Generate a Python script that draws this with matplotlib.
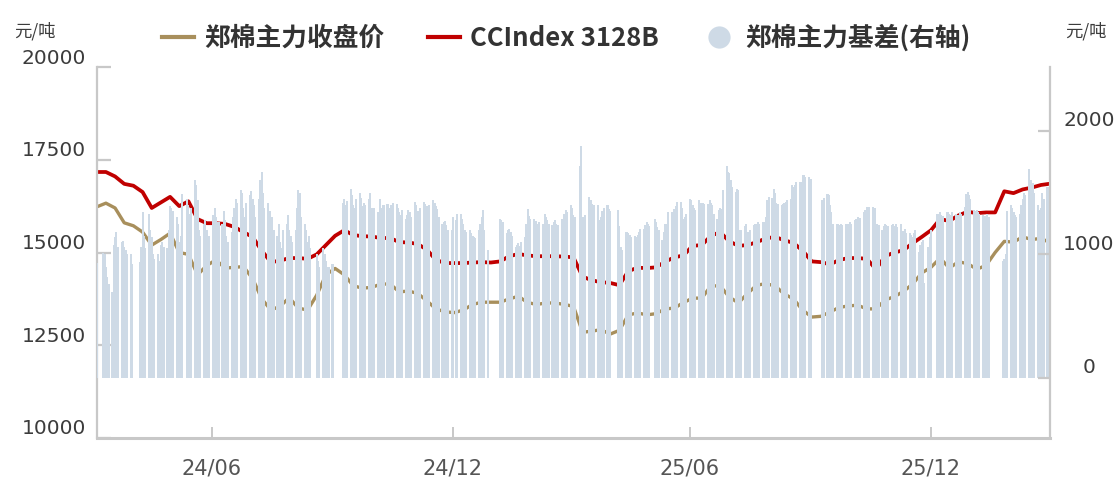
import matplotlib
matplotlib.use('Agg')
import matplotlib.pyplot as plt
import matplotlib.transforms as mtransforms
from matplotlib.lines import Line2D
import pandas as pd

plt.rcParams['font.family'] = ['Noto Sans CJK SC', 'DejaVu Sans']

# exchange holidays (weekdays with no trading)
holidays = ['2024-04-04', '2024-04-05', '2024-05-01', '2024-05-02', '2024-05-03',
            '2024-06-10', '2024-09-16', '2024-09-17', '2024-10-01', '2024-10-02',
            '2024-10-03', '2024-10-04', '2024-10-07', '2025-01-01', '2025-01-28',
            '2025-01-29', '2025-01-30', '2025-01-31', '2025-02-03', '2025-02-04',
            '2025-04-04', '2025-05-01', '2025-05-02', '2025-05-05', '2025-06-02',
            '2025-10-01', '2025-10-02', '2025-10-03', '2025-10-06', '2025-10-07',
            '2025-10-08', '2026-01-01', '2026-01-02', '2026-02-16', '2026-02-17',
            '2026-02-18', '2026-02-19', '2026-02-20', '2026-02-23']

# 郑棉主力基差, daily, one list per month (Apr 2024 .. Mar 2026)
basis_2024 = [
    [930, 1010, 1000, 900, 820, 760, 700, 1080, 1140, 1180, 1060, 1100, 1110, 1060, 1040, 1000, 1000, 920],
    [940, 1060, 1340, 1150, 1050, 1330, 1200, 1140, 1000, 960, 1000, 950, 1080, 1100, 1060, 1050, 1200, 1395, 1380, 1350],
    [1300, 1250, 1100, 1150, 1490, 1450, 1400, 1330, 1380, 1600, 1560, 1440, 1200, 1150, 1250, 1280, 1200, 1100, 1150],
    [1320, 1380, 1300, 1200, 1260, 1250, 1350, 1280, 1150, 1100, 1180, 1300, 1380, 1450, 1420, 1520, 1500, 1380, 1300, 1420, 1480, 1510, 1450],
    [1400, 1300, 1450, 1600, 1670, 1500, 1380, 1420, 1350, 1250, 1300, 1200, 1150, 1250, 1100, 1050, 1200, 1250, 1320, 1200, 1150, 1100],
    [1200, 1380, 1520, 1500, 1300, 1250, 1200, 1100, 1150, 1050, 1000, 950, 900, 1050, 1000, 950, 870, 900, 920],
    [1420, 1450, 1400, 1430, 1530, 1480, 1400, 1380, 1450, 1500, 1460, 1390, 1420, 1400, 1450, 1500, 1380, 1350],
    [1380, 1344, 1450, 1380, 1360, 1400, 1410, 1380, 1360, 1400, 1420, 1410, 1380, 1340, 1320, 1360, 1290, 1320, 1360, 1340, 1300],
    [1425, 1400, 1350, 1330, 1380, 1425, 1410, 1390, 1385, 1400, 1440, 1420, 1390, 1370, 1300, 1250, 1260, 1275, 1240, 1200, 1195, 1300],
]
basis_2025 = [
    [1280, 1330, 1330, 1290, 1250, 1200, 1180, 1195, 1170, 1150, 1140, 1130, 1195, 1250, 1300, 1360, 1200, 1035],
    [1290, 1280, 1260, 1170, 1200, 1210, 1180, 1150, 1060, 1080, 1090, 1070, 1100, 1140, 1250, 1370, 1310, 1290],
    [1290, 1270, 1250, 1240, 1260, 1250, 1330, 1300, 1280, 1250, 1240, 1260, 1280, 1250, 1240, 1290, 1240, 1330, 1360, 1340, 1400],
    [1380, 1320, 1300, 1720, 1880, 1300, 1300, 1320, 1465, 1440, 1410, 1380, 1400, 1400, 1280, 1300, 1350, 1380, 1400, 1370, 1350],
    [1360, 1230, 1060, 1035, 1180, 1180, 1170, 1160, 1140, 1150, 1140, 1160, 1180, 1210, 1210, 1240, 1260, 1250, 1230],
    [1290, 1260, 1220, 1195, 1115, 1180, 1250, 1250, 1340, 1340, 1320, 1370, 1390, 1425, 1425, 1380, 1290, 1300, 1330, 1450],
    [1440, 1400, 1380, 1360, 1440, 1420, 1400, 1420, 1410, 1410, 1440, 1420, 1400, 1330, 1290, 1360, 1380, 1370, 1520, 1720, 1670, 1660, 1600],
    [1550, 1505, 1530, 1520, 1195, 1200, 1230, 1250, 1180, 1170, 1200, 1235, 1250, 1220, 1260, 1250, 1260, 1265, 1300, 1440, 1465],
    [1460, 1530, 1500, 1420, 1410, 1400, 1410, 1420, 1425, 1440, 1450, 1560, 1550, 1560, 1585, 1590, 1585, 1640, 1640, 1630, 1625, 1610],
    [1440, 1460, 1490, 1480, 1400, 1345, 1250, 1250, 1245, 1240, 1250, 1240, 1245, 1240, 1245, 1260, 1250],
    [1280, 1290, 1300, 1290, 1295, 1345, 1360, 1385, 1380, 1385, 1385, 1380, 1236, 1250, 1240, 1200, 1230, 1250, 1240, 1230],
    [1240, 1250, 1230, 1250, 1220, 1250, 1180, 1190, 1210, 1170, 1170, 1160, 1140, 1170, 1200, 1020, 1080, 1100, 1115, 765, 1060, 1140, 1200],
]
basis_2026 = [
    [1330, 1250, 1340, 1320, 1310, 1345, 1340, 1330, 1320, 1340, 1330, 1310, 1320, 1340, 1330, 1385, 1490, 1505, 1480, 1450],
    [1360, 1350, 1360, 1340, 1330, 1320, 1310, 1300, 1330, 1300, 950, 960, 1000, 1350],
    [1400, 1380, 1340, 1320, 1300, 1330, 1400, 1450, 1500, 1480, 1690, 1600, 1500, 1580, 1500, 1400, 1360, 1380, 1500, 1450, 1545, 1540],
]

# weekly readings of the two price lines (Wednesdays from 2024-04-03, last point 2026-03-31)
cc_index = [17170, 17170, 17050, 16850, 16800, 16630, 16200, 16350, 16500, 16250,
            16380, 15900, 15790, 15790, 15770, 15690, 15550, 15420, 15050, 14740,
            14780, 14850, 14850, 14830, 14950, 15200, 15450, 15600, 15470, 15440,
            15430, 15390, 15390, 15280, 15270, 15230, 15080, 14800, 14715, 14715,
            14715, 14730, 14740, 14730, 14760, 14900, 14960, 14920, 14900, 14900,
            14900, 14890, 14870, 14350, 14250, 14200, 14180, 14120, 14500, 14590,
            14580, 14600, 14750, 14870, 14920, 15180, 15200, 15450, 15550, 15300,
            15180, 15200, 15280, 15380, 15420, 15330, 15260, 15050, 14760, 14740,
            14680, 14800, 14850, 14850, 14830, 14550, 14900, 15000, 15060, 15250,
            15420, 15600, 15900, 15850, 16000, 16100, 16060, 16080, 16080, 16650,
            16600, 16700, 16750, 16820, 16850]
zce_close = [16230, 16330, 16200, 15800, 15720, 15550, 15200, 15350, 15520, 15000,
             14950, 14400, 14650, 14800, 14580, 14600, 14620, 14300, 13750, 13450,
             13550, 13780, 13500, 13450, 13850, 14400, 14570, 14400, 14100, 14040,
             14060, 14150, 14150, 13940, 13960, 13900, 13700, 13480, 13400, 13380,
             13450, 13600, 13660, 13660, 13660, 13750, 13820, 13650, 13600, 13640,
             13640, 13600, 13550, 12850, 12880, 12920, 12800, 12900, 13320, 13370,
             13320, 13350, 13480, 13500, 13650, 13770, 13770, 14100, 14100, 13800,
             13640, 13900, 14120, 14160, 14100, 13880, 13750, 13450, 13260, 13280,
             13400, 13520, 13560, 13580, 13480, 13480, 13720, 13810, 13950, 14150,
             14450, 14600, 14850, 14580, 14750, 14700, 14550, 14650, 15000, 15300,
             15280, 15420, 15350, 15380, 15280]

x_ticks = ['2024-06-30', '2024-12-31', '2025-06-30', '2025-12-31']
x_labels = ['24/06', '24/12', '25/06', '25/12']
left_ticks = [10000, 12500, 15000, 17500, 20000]
right_ticks = [0, 1000, 2000]
labels = ['郑棉主力收盘价', 'CCIndex 3128B', '郑棉主力基差(右轴)']

c_brown = '#a88f5c'
c_red = '#c00000'
c_bar = '#cedae6'
c_axis = '#c8c8c8'
c_text = '#3c3c3c'

# trading days and bar data
tdays = pd.bdate_range('2024-04-03', '2026-03-31')
tdays = tdays[~tdays.isin(pd.to_datetime(holidays))]
months = pd.period_range('2024-04', '2026-03', freq='M')
bar_dates, bar_vals = [], []
for m, vals in zip(months, basis_2024 + basis_2025 + basis_2026):
    days = tdays[(tdays.year == m.year) & (tdays.month == m.month)]
    n = min(len(days), len(vals))
    bar_dates += list(days[:n])
    bar_vals += vals[:n]

line_dates = list(pd.date_range('2024-04-03', periods=104, freq='7D')) + [pd.Timestamp('2026-03-31')]

fig = plt.figure(figsize=(11.17, 4.8), dpi=100)
ax = fig.add_axes([97 / 1117, 42 / 480, 953 / 1117, 371 / 480])
ax.plot(line_dates, zce_close, color=c_brown, lw=2.4)
ax.plot(line_dates, cc_index, color=c_red, lw=2.7)

# bars on the right axis are drawn over the lines
ax2 = ax.twinx()
ax2.bar(bar_dates, bar_vals, width=1.6, color=c_bar, linewidth=0, antialiased=False)

ax.set_xlim(pd.Timestamp('2024-06-30') - pd.Timedelta(days=87.8),
            pd.Timestamp('2025-12-31') + pd.Timedelta(days=90.9))
ax.set_ylim(10000, 20000)
ax2.set_ylim(-486, 2518)
ax.set_yticks(left_ticks)
ax2.set_yticks(right_ticks)
ax.set_xticks(pd.to_datetime(x_ticks))
ax.set_xticklabels(x_labels)

for a in (ax, ax2):
    a.spines['top'].set_visible(False)
ax.spines['right'].set_visible(False)
ax2.spines['left'].set_visible(False)
ax2.spines['bottom'].set_visible(False)
ax.spines['left'].set_color(c_axis)
ax.spines['left'].set_linewidth(1.6)
ax.spines['bottom'].set_color(c_axis)
ax.spines['bottom'].set_linewidth(2.2)
ax2.spines['right'].set_color(c_axis)
ax2.spines['right'].set_linewidth(1.6)

ax.tick_params(axis='y', direction='in', length=10, width=1.6, color=c_axis,
               labelsize=14.5, labelcolor=c_text, pad=8)
ax.tick_params(axis='x', direction='in', length=8, width=1.4, color=c_axis,
               labelsize=15, labelcolor='#555555', pad=15)
ax2.tick_params(axis='y', direction='in', length=9, width=1.6, color=c_axis,
                labelsize=14.5, labelcolor=c_text, pad=28)
for lab in ax.get_yticklabels() + ax.get_xticklabels() + ax2.get_yticklabels():
    lab.set_family('DejaVu Sans')

# tick labels sit a little above their tick marks (offsets in pixels)
up = mtransforms.ScaledTranslation(0, 11 / 100, fig.dpi_scale_trans)
for lab in ax.get_yticklabels():
    lab.set_transform(lab.get_transform() + up)
up2 = mtransforms.ScaledTranslation(0, 12 / 100, fig.dpi_scale_trans)
for lab in ax2.get_yticklabels():
    lab.set_transform(lab.get_transform() + up2)
    lab.set_horizontalalignment('center')

fig.text(14 / 1117, 1 - 31 / 480, '元/吨', ha='left', va='center', fontsize=12.5, color=c_text)
fig.text(1065 / 1117, 1 - 31 / 480, '元/吨', ha='left', va='center', fontsize=12.5, color=c_text)

handles = [Line2D([], [], color=c_brown, lw=3),
           Line2D([], [], color=c_red, lw=3),
           Line2D([], [], ls='none', marker='o', ms=16, mfc=c_bar, mec='none')]
fig.legend(handles, labels, loc='center', bbox_to_anchor=(566 / 1117, 1 - 38 / 480),
           ncol=3, frameon=False, prop=dict(size=18.5, weight='bold'),
           handlelength=1.25, handletextpad=0.4, columnspacing=1.7, labelcolor='#333333')

fig.savefig('out.png', dpi=100)
